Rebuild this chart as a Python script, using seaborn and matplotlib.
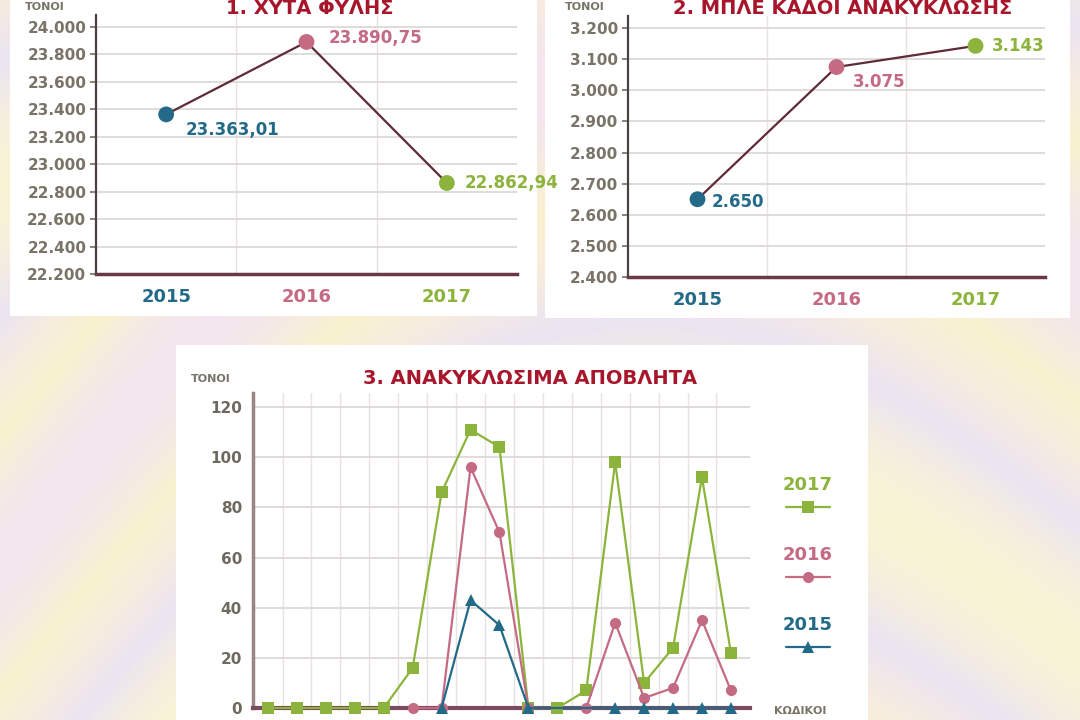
import matplotlib
matplotlib.use("Agg")
import matplotlib.pyplot as plt
import numpy as np
import pandas as pd
import seaborn as sns
from matplotlib.colors import LinearSegmentedColormap
from matplotlib.lines import Line2D
from matplotlib.patches import Rectangle
from matplotlib.ticker import FixedLocator, FuncFormatter

# --- data ---
years = ["2015", "2016", "2017"]
landfill_tons = [23363.01, 23890.75, 22862.94]
blue_bin_tons = [2650, 3075, 3143]

codes = list(range(17))
recyc_2017 = [0, 0, 0, 0, 0, 16, 86, 111, 104, 0, 0, 7, 98, 10, 24, 92, 22]
recyc_2016 = [np.nan] * 5 + [0, 0, 96, 70, 0, np.nan, 0, 34, 4, 8, 35, 7]
recyc_2015 = [np.nan] * 6 + [0, 43, 33, 0, np.nan, np.nan, 0, 0, 0, 0, 0]

landfill_ticks = list(range(22200, 24001, 200))
blue_ticks = list(range(2400, 3201, 100))
recyc_ticks = list(range(0, 121, 20))

# --- style ---
BLUE = "#236a88"
PINK = "#c46a82"
GREEN = "#8cb43c"
MAROON = "#5e2a36"
TITLE_RED = "#a8162b"
TICK_GRAY = "#7a7468"
GRID = "#dcd9d5"
year_colors = {"2015": BLUE, "2016": PINK, "2017": GREEN}

sns.set_theme(style="white")
plt.rcParams["font.family"] = ["Liberation Sans Narrow", "DejaVu Sans"]
plt.rcParams["font.weight"] = "bold"

W, H = 1080, 720
fig = plt.figure(figsize=(10.8, 7.2), dpi=100)


def fx(px):
    return px / W


def fy(py):
    return 1 - py / H


def gr_num(v, dec=0):
    s = f"{v:,.{dec}f}"
    return s.replace(",", "X").replace(".", ",").replace("X", ".")


# pastel background
yy, xx = np.mgrid[0:1:180j, 0:1:270j]
field = np.sin(6 * yy + 3 * np.sin(3 * xx) + 2 * xx) * 0.5 + 0.5
bg_cmap = LinearSegmentedColormap.from_list(
    "pastel", ["#f3e6ee", "#f8f2cf", "#f6ecdf", "#ebe4f2", "#f9f3d6"]
)
bg_ax = fig.add_axes([0, 0, 1, 1], zorder=-10)
bg_ax.imshow(field, cmap=bg_cmap, aspect="auto", interpolation="bicubic")
bg_ax.axis("off")

# white panels
for x0, y0, x1, y1 in [(10, -10, 537, 316), (545, -10, 1070, 318), (176, 345, 868, 730)]:
    fig.add_artist(Rectangle((fx(x0), fy(y1)), fx(x1 - x0), (y1 - y0) / H,
                             transform=fig.transFigure, facecolor="white",
                             edgecolor="none", zorder=-5))


def style_top(ax, ticks, dec_fmt):
    ax.set_facecolor("none")
    ax.set_xlim(-0.5, 2.5)
    ax.yaxis.set_major_locator(FixedLocator(ticks))
    ax.yaxis.set_major_formatter(FuncFormatter(dec_fmt))
    ax.set_xticks([0, 1, 2])
    ax.set_xticklabels(years, fontsize=13, fontweight="bold")
    for lbl, yr in zip(ax.get_xticklabels(), years):
        lbl.set_color(year_colors[yr])
    ax.xaxis.set_minor_locator(FixedLocator([0.5, 1.5]))
    ax.grid(axis="y", which="major", color=GRID, lw=1.3)
    ax.grid(axis="x", which="minor", color="#e6e3e0", lw=1.0)
    ax.tick_params(axis="y", labelsize=11, labelcolor=TICK_GRAY, length=4,
                   color=TICK_GRAY, pad=3, left=True)
    ax.tick_params(axis="x", length=0, pad=10)
    ax.tick_params(axis="x", which="minor", length=0)
    for side in ["top", "right"]:
        ax.spines[side].set_visible(False)
    ax.spines["left"].set_color("#4d4040")
    ax.spines["left"].set_linewidth(1.6)
    ax.spines["bottom"].set_color("#6d3845")
    ax.spines["bottom"].set_linewidth(2.5)
    ax.set_xlabel("")
    ax.set_ylabel("")


def draw_top(ax, values):
    pos = list(range(len(years)))
    sns.lineplot(x=pos, y=values, ax=ax, color=MAROON, lw=1.6, zorder=3)
    sns.scatterplot(x=pos, y=values, hue=years, palette=year_colors, ax=ax,
                    s=130, edgecolor="none", legend=False, zorder=4)


# --- chart 1 ---
ax1 = fig.add_axes([fx(96), fy(274), fx(517 - 96), 259.4 / H])
draw_top(ax1, landfill_tons)
ax1.set_ylim(22200, 24090)
style_top(ax1, landfill_ticks, lambda v, p: gr_num(v))
for i, (v, yr) in enumerate(zip(landfill_tons, years)):
    dx, dy = [(14, -11), (16, 3), (13, 0)][i]
    ax1.annotate(gr_num(v, 2), (i, v), xytext=(dx, dy), textcoords="offset points",
                 ha="left", va="center", fontsize=12, fontweight="bold",
                 color=year_colors[yr])

# --- chart 2 ---
ax2 = fig.add_axes([fx(628), fy(277), fx(1045 - 628), 261.3 / H])
draw_top(ax2, blue_bin_tons)
ax2.set_ylim(2400, 3240)
style_top(ax2, blue_ticks, lambda v, p: gr_num(v))
for i, (v, yr) in enumerate(zip(blue_bin_tons, years)):
    dx, dy = [(10, -2), (12, -11), (12, 0)][i]
    ax2.annotate(gr_num(v), (i, v), xytext=(dx, dy), textcoords="offset points",
                 ha="left", va="center", fontsize=12, fontweight="bold",
                 color=year_colors[yr])

# top titles
fig.text(fx(310), fy(9), "1. ΧΥΤΑ ΦΥΛΗΣ", ha="center", va="center",
         fontsize=14, fontweight="bold", color=TITLE_RED)
fig.text(fx(843), fy(9), "2. ΜΠΛΕ ΚΑΔΟΙ ΑΝΑΚΥΚΛΩΣΗΣ", ha="center", va="center",
         fontsize=14, fontweight="bold", color=TITLE_RED)
fig.text(fx(45), fy(7), "ΤΟΝΟΙ", ha="center", va="center", fontsize=8,
         fontweight="bold", color=TICK_GRAY)
fig.text(fx(585), fy(7), "ΤΟΝΟΙ", ha="center", va="center", fontsize=8,
         fontweight="bold", color=TICK_GRAY)

# --- chart 3 ---
ax3 = fig.add_axes([fx(253), fy(708), fx(750 - 253), 315 / H])
ax3.set_facecolor("none")
recyc = pd.DataFrame({
    "code": codes * 3,
    "tons": recyc_2017 + recyc_2016 + recyc_2015,
    "year": ["2017"] * 17 + ["2016"] * 17 + ["2015"] * 17,
}).dropna()
sns.lineplot(data=recyc, x="code", y="tons", hue="year",
             hue_order=["2017", "2016", "2015"], palette=year_colors,
             style="year", markers={"2017": "s", "2016": "o", "2015": "^"},
             dashes=False, markersize=8, markeredgewidth=0, lw=1.6,
             legend=False, ax=ax3)
for z, ln in enumerate(ax3.lines):
    ln.set_clip_on(False)
    ln.set_zorder(4 + z)
ax3.set_xlim(-0.52, 16.66)
ax3.set_ylim(0, 125.6)
ax3.yaxis.set_major_locator(FixedLocator(recyc_ticks))
ax3.xaxis.set_major_locator(FixedLocator([]))
ax3.xaxis.set_minor_locator(FixedLocator([c + 0.5 for c in codes[:-1]]))
ax3.grid(axis="y", which="major", color=GRID, lw=1.3)
ax3.grid(axis="x", which="minor", color="#e6e3e0", lw=1.0)
ax3.tick_params(axis="y", labelsize=11, labelcolor="#6e6a60", length=0, pad=8)
ax3.tick_params(axis="x", which="both", length=0)
for side in ["top", "right"]:
    ax3.spines[side].set_visible(False)
ax3.spines["left"].set_color("#9a8585")
ax3.spines["left"].set_linewidth(2.5)
ax3.spines["bottom"].set_color("#7a4a5e")
ax3.spines["bottom"].set_linewidth(3)
ax3.spines["bottom"].set_zorder(3)
ax3.set_xlabel("")
ax3.set_ylabel("")

fig.text(fx(530), fy(379), "3. ΑΝΑΚΥΚΛΩΣΙΜΑ ΑΠΟΒΛΗΤΑ", ha="center", va="center",
         fontsize=14, fontweight="bold", color=TITLE_RED)
fig.text(fx(211), fy(379), "ΤΟΝΟΙ", ha="center", va="center", fontsize=8,
         fontweight="bold", color=TICK_GRAY)
fig.text(fx(800), fy(711), "ΚΩΔΙΚΟΙ", ha="center", va="center", fontsize=8,
         fontweight="bold", color=TICK_GRAY)

# legend: label above a short line with marker
for yr, mk, ty in [("2017", "s", 485), ("2016", "o", 555), ("2015", "^", 625)]:
    c = year_colors[yr]
    fig.text(fx(808), fy(ty), yr, ha="center", va="center", fontsize=13,
             fontweight="bold", color=c)
    fig.add_artist(Line2D([fx(786), fx(808), fx(830)], [fy(ty + 22)] * 3,
                          transform=fig.transFigure, color=c, lw=1.6,
                          marker=mk, markevery=[1], markersize=8,
                          markeredgewidth=0))

fig.savefig("out.png", dpi=100)
